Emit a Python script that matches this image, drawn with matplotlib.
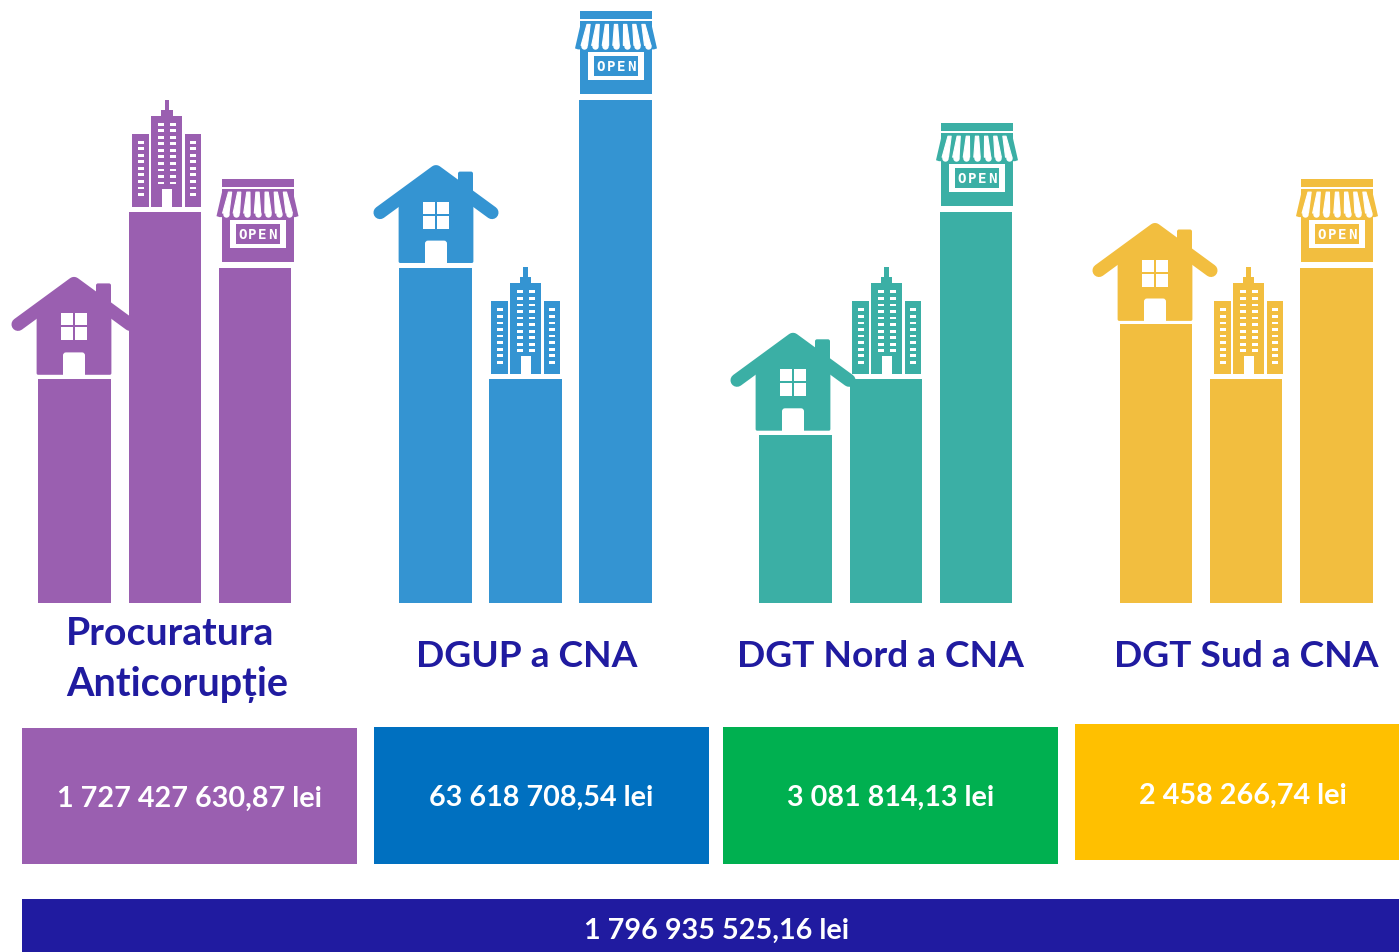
import matplotlib
matplotlib.use("Agg")
import matplotlib.pyplot as plt
from matplotlib.patches import Rectangle, Polygon, FancyBboxPatch

plt.rcParams['font.family'] = ['Lato', 'DejaVu Sans']

# bar heights (no axis in the original, so in relative units)
house_vals = [4, 6, 3, 5]
tower_vals = [7, 4, 4, 4]
shop_vals = [6, 9, 7, 6]

group_names = ["Procuratura\nAnticorupție", "DGUP a CNA", "DGT Nord a CNA", "DGT Sud a CNA"]
group_sums = ["1 727 427 630,87 lei", "63 618 708,54 lei", "3 081 814,13 lei", "2 458 266,74 lei"]
total_sum = "1 796 935 525,16 lei"

bar_colors = ["#9A5FB0", "#3494D2", "#3BAFA5", "#F2BE3F"]
box_colors = ["#9A5FB0", "#0070C0", "#00B050", "#FFC000"]
dark = "#201BA0"

W, H = 1399, 953
BASE = 603
UNIT = 55.9
BAR_W = 72.5
SHIFT = 1  # picture came out a pixel high

house_x = [74.5, 435.5, 795.5, 1156]
tower_x = [165, 525.5, 886, 1246]
shop_x = [255, 615.5, 976, 1336.5]

house_cx = [74, 436, 793, 1155]
house_dy = [5, 5, 5, 3]
tower_cx = [166.5, 525, 886, 1248]
shop_cx = [257.5, 616, 977, 1337]

fig = plt.figure(figsize=(W / 100, H / 100), dpi=100)
fig.patch.set_facecolor("white")

# bars on their own scale, baseline at the bottom of this axes
ax_b = fig.add_axes([0, 1 - (BASE + SHIFT) / H, 1, BASE / H])
ax_b.set_xlim(0, W)
ax_b.set_ylim(0, BASE / UNIT)
ax_b.axis("off")

# everything else in picture pixels
ax = fig.add_axes([0, 0, 1, 1])
ax.set_xlim(0, W)
ax.set_ylim(H - SHIFT, -SHIFT)
ax.axis("off")
ax.patch.set_alpha(0)


def rect(x0, y0, x1, y1, color, z=3):
    ax.add_patch(Rectangle((x0, y0), x1 - x0, y1 - y0, fc=color, ec="none", zorder=z))


def draw_house(cx, top, dy, c):
    b = top - dy
    ax.plot([cx - 56, cx, cx + 56], [b - 50, b - 91, b - 50], color=c, lw=9.4,
            solid_capstyle="round", solid_joinstyle="round", zorder=3)
    ax.add_patch(Polygon([(cx - 36, b - 1), (cx + 36, b - 1), (cx + 36, b - 68), (cx, b - 92), (cx - 36, b - 68)],
                         fc=c, ec=c, lw=2, joinstyle="round", zorder=3))
    ax.add_patch(FancyBboxPatch((cx + 22, b - 91), 15, 30, boxstyle="round,pad=0,rounding_size=2",
                                fc=c, ec="none", zorder=3))
    # window
    rect(cx - 13, b - 61, cx - 1, b - 49, "white", 4)
    rect(cx + 1, b - 61, cx + 13, b - 49, "white", 4)
    rect(cx - 13, b - 47, cx - 1, b - 34, "white", 4)
    rect(cx + 1, b - 47, cx + 13, b - 34, "white", 4)
    # door
    ax.add_patch(FancyBboxPatch((cx - 11, b - 22), 22, 24, boxstyle="round,pad=0,rounding_size=3",
                                fc="white", ec="none", zorder=4))
    rect(cx - 11, b - 12, cx + 11, b + 2, "white", 4)
    rect(cx - 11, b + 1, cx + 11, b + dy, "white", 5)


def draw_tower(cx, top, c):
    b = top - 5
    rect(cx - 15.5, b - 91, cx + 15.5, b, c)
    rect(cx - 5.5, b - 97, cx + 6, b - 91, c)
    rect(cx - 2, b - 107, cx + 2.5, b - 97, c)
    rect(cx - 34.5, b - 73, cx - 17.5, b, c)
    rect(cx + 18.5, b - 73, cx + 34.5, b, c)
    rect(cx - 4.5, b - 18, cx + 5.5, b, "white", 4)
    for i in range(10):
        y = b - 84 + i * 6.55
        rect(cx - 8.5, y, cx - 2.5, y + 2.8, "white", 4)
        rect(cx + 3.5, y, cx + 9.5, y + 2.8, "white", 4)
    for i in range(9):
        y = b - 66 + i * 6.55
        rect(cx - 28.5, y, cx - 22.5, y + 2.8, "white", 4)
        rect(cx + 23.5, y, cx + 29.5, y + 2.8, "white", 4)


def draw_shop(cx, top, c):
    t = top - 88.5
    rect(cx - 36, t, cx + 36, t + 8, c)
    rect(cx - 36, t + 10, cx + 36, t + 83, c)
    # awning flares out past the walls
    ax.add_patch(Polygon([(cx - 35, t + 11), (cx + 35, t + 11), (cx + 41, t + 37), (cx + 38, t + 38),
                          (cx - 38, t + 38), (cx - 41, t + 37)], fc=c, ec="none", zorder=3))
    n = 7
    for i in range(n):
        f = (i + 0.5) / n - 0.5
        xt = cx + f * 64
        xb = cx + f * 74
        ax.add_patch(Polygon([(xt - 1.6, t + 13), (xt + 1.6, t + 13), (xb + 3.2, t + 34), (xb - 3.2, t + 34)],
                             fc="white", ec="white", lw=0.8, joinstyle="round", zorder=4))
        ax.plot([xb], [t + 34.5], "o", ms=4.6, color="white", mew=0, zorder=4)
    # sign
    rect(cx - 28, t + 41, cx + 28, t + 69, "white", 4)
    rect(cx - 22, t + 45, cx + 22, t + 65, c, 5)
    for j, ch in enumerate("OPEN"):
        ax.text(cx + (j - 1.5) * 10, t + 55, ch, color="white", fontsize=10.2, fontweight="bold",
                family="DejaVu Sans Mono", ha="center", va="center", zorder=6)


for i in range(4):
    c = bar_colors[i]
    ax_b.bar(house_x[i], house_vals[i], width=BAR_W, color=c, linewidth=0)
    ax_b.bar(tower_x[i], tower_vals[i], width=BAR_W, color=c, linewidth=0)
    ax_b.bar(shop_x[i], shop_vals[i], width=BAR_W, color=c, linewidth=0)
    draw_house(house_cx[i], BASE - house_vals[i] * UNIT, house_dy[i], c)
    draw_tower(tower_cx[i], BASE - tower_vals[i] * UNIT, c)
    draw_shop(shop_cx[i], BASE - shop_vals[i] * UNIT, c)

# group names
name_x = [None, 526.5, 880.5, 1246]
name_fs = 26.7
first_line, second_line = group_names[0].split("\n")
ax.text(170, 632.5, first_line, color=dark, fontsize=28.3, fontweight="bold", ha="center", va="center")
ax.text(177, 683.5, second_line, color=dark, fontsize=28.5, fontweight="bold", ha="center", va="center")
for i in range(1, 4):
    ax.text(name_x[i], 655.5, group_names[i], color=dark, fontsize=name_fs, fontweight="bold", ha="center", va="center")

# value boxes
box_l = [22, 374, 723, 1075]
box_r = [357, 709, 1058, 1399]
box_t = [728, 727, 727, 724]
box_b = [864, 864, 864, 860]
text_x = [189.5, 541.5, 890.5, 1242.5]
text_y = [798, 797, 797, 795]
for i in range(4):
    rect(box_l[i], box_t[i], box_r[i], box_b[i], box_colors[i], 2)
    ax.text(text_x[i], text_y[i], group_sums[i], color="white", fontsize=20.7, fontweight="bold",
            ha="center", va="center", zorder=5)

rect(22, 899, 1399, 954, dark, 2)
ax.text(716, 930, total_sum, color="white", fontsize=20.7, fontweight="bold", ha="center", va="center", zorder=5)

fig.savefig("out.png", dpi=100)
